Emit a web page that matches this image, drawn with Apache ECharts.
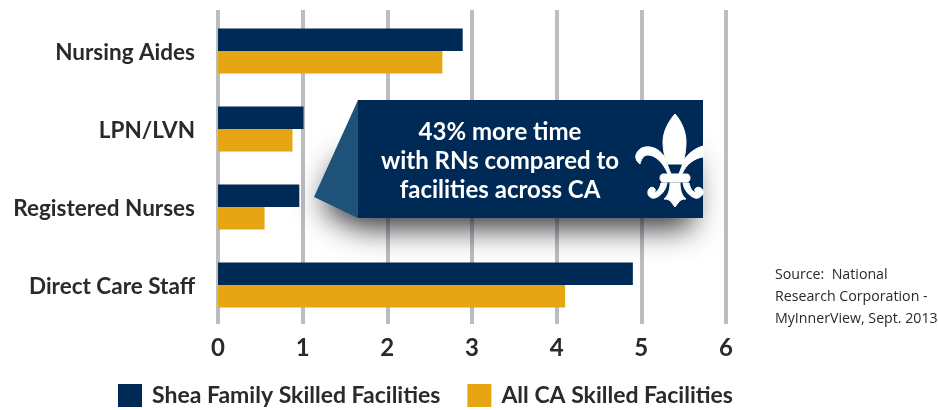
<!DOCTYPE html>
<html>
<head>
<meta charset="utf-8">
<style>html,body{margin:0;padding:0;background:#fff}#chart{width:938px;height:410px}</style>
<script src="https://cdn.jsdelivr.net/npm/echarts@6/dist/echarts.min.js"></script>
</head>
<body>
<div id="chart"></div>
<script>
var categories = ['Nursing Aides', 'LPN/LVN', 'Registered Nurses', 'Direct Care Staff'];
var sheaName = 'Shea Family Skilled Facilities';
var caName = 'All CA Skilled Facilities';
var sheaValues = [2.89, 1.01, 0.96, 4.9];
var caValues = [2.65, 0.88, 0.55, 4.1];
var calloutLines = ['43% more time', 'with RNs compared to', 'facilities across CA'];
var sourceLines = ['Source:  National', 'Research Corporation -', 'MyInnerView, Sept. 2013'];

var NAVY = '#002a56', GOLD = '#e6a614', GRID = '#bcbdc0', INK = '#2b2a2b';
var FONT = 'Lato';

var fleur = 'M675 114C668 122 663 132 663 142C663 154 667 164 671 174L668 174C664 164 656 155 648 155C643 155 641 160 640 164C637 162 635 158 636 155C638 149 643 146 650 147C660 148 666 158 668 164L682 164C684 158 692 149 703 146L703 157C695 158 686 164 682 174L679 174C683 164 686 154 686 142C686 132 682 122 675 114Z' +
    'M663 174L687 174C691 174 691 182 687 182L663 182C659 182 659 174 663 174Z' +
    'M670 183L680 183C680 190 682 196 686 199C682 199 680 200 678 203L675 207L672 203C670 200 668 199 664 199C668 196 670 190 670 183Z' +
    'M661 183L667 183C666 190 661 196 655 198C650 199 647 195 648 191C649 187 653 186 655 189C656 191 654 192 654 192C657 193 660 188 661 183Z' +
    'M689 183L683 183C684 190 689 196 695 198C698 199 701 197 703 194L703 191C702 187 697 186 695 189C694 191 696 192 696 192C693 193 690 188 689 183Z';

echarts.graphic.registerShape('fleur', echarts.graphic.extendPath(fleur, {}));

var option = {
    animation: false,
    textStyle: {fontFamily: FONT},
    grid: [
        {left: 218, top: 10, width: 508, height: 314},
        {left: 218, top: 12, width: 508, height: 312}
    ],
    legend: {
        left: 118,
        top: 384,
        padding: 0,
        itemWidth: 24,
        itemHeight: 23,
        itemGap: 27,
        icon: 'rect',
        textStyle: {fontFamily: FONT, fontWeight: 'bold', fontSize: 23, color: INK, padding: [0, 0, 0, 5]},
        data: [sheaName, caName]
    },
    xAxis: [
        {
            gridIndex: 0, type: 'value', min: 0, max: 6, interval: 1,
            axisLine: {show: false}, axisTick: {show: false},
            axisLabel: {color: INK, fontFamily: FONT, fontWeight: 'bold', fontSize: 24, margin: 12},
            splitLine: {show: true, lineStyle: {color: GRID, width: 4}}
        },
        {
            gridIndex: 1, type: 'value', min: 0, max: 6, interval: 1,
            axisLine: {show: false}, axisTick: {show: false},
            axisLabel: {show: false}, splitLine: {show: false}
        }
    ],
    yAxis: [
        {gridIndex: 0, type: 'category', inverse: true, data: categories, show: false},
        {
            gridIndex: 1, type: 'category', inverse: true, data: categories,
            axisLine: {show: false}, axisTick: {show: false},
            axisLabel: {
                margin: 23,
                formatter: '{a|{value}}',
                rich: {a: {color: INK, fontFamily: FONT, fontWeight: 'bold', fontSize: 22.5, padding: [4, 0, 0, 0]}}
            }
        }
    ],
    series: [
        {name: sheaName, type: 'bar', xAxisIndex: 1, yAxisIndex: 1, data: sheaValues, barWidth: 22.5, barGap: 0, itemStyle: {color: NAVY}, z: 3},
        {name: caName, type: 'bar', xAxisIndex: 1, yAxisIndex: 1, data: caValues, barWidth: 22.5, barGap: 0, itemStyle: {color: GOLD}, z: 3}
    ],
    graphic: [
        {
            type: 'polygon', z: 10, silent: true,
            shape: {points: [[340, 150], [692, 150], [692, 216], [360, 216], [322, 196]]},
            style: {fill: '#46464b', shadowBlur: 30, shadowOffsetY: 12, shadowColor: 'rgba(30,30,35,0.9)'}
        },
        {
            type: 'polygon', z: 11, silent: true,
            shape: {points: [[358, 100], [358, 218], [314, 197]]},
            style: {fill: '#1f5279'}
        },
        {
            type: 'rect', z: 11, silent: true,
            shape: {x: 358, y: 100, width: 345, height: 118},
            style: {fill: NAVY}
        },
        {
            type: 'fleur', z: 12, silent: true,
            style: {fill: '#fff', stroke: '#fff', lineWidth: 1}
        }
    ].concat(calloutLines.map(function (t, i) {
        return {
            type: 'text', z: 12, silent: true, x: 500, y: 132 + i * 29,
            style: {text: t, fill: '#fff', font: 'bold 24px ' + FONT, textAlign: 'center', textVerticalAlign: 'middle'}
        };
    })).concat(sourceLines.map(function (t, i) {
        return {
            type: 'text', silent: true, x: 775, y: 275 + i * 22,
            style: {text: t, fill: INK, font: '14.2px "Open Sans"', textAlign: 'left', textVerticalAlign: 'middle'}
        };
    }))
};

var chart = echarts.init(document.getElementById('chart'));
chart.setOption(option);
</script>
</body>
</html>
